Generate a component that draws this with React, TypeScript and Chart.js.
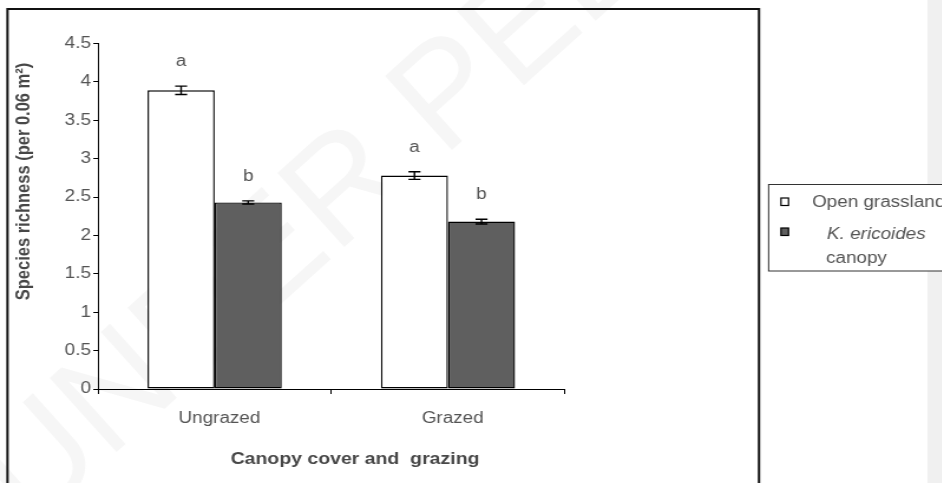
import React, { useEffect, useRef } from "react";
import { Chart, registerables } from "chart.js";

Chart.register(...registerables);

// ---- data ----
const categories = ["Ungrazed", "Grazed"];
const seriesNames = ["Open grassland", "K. ericoides canopy"];
const openValues = [3.89, 2.78];
const canopyValues = [2.43, 2.18];
const openErrors = [0.055, 0.05];
const canopyErrors = [0.02, 0.03];
const openLetters = ["a", "a"];
const canopyLetters = ["b", "b"];
const yTickValues = [0, 0.5, 1, 1.5, 2, 2.5, 3, 3.5, 4, 4.5];
const yTitle = "Species richness (per 0.06 m\u00B2)";
const xTitle = "Canopy cover and  grazing";
const watermark = "UNDER PEER REVIEW";

// ---- layout (reference is horizontally stretched) ----
const S = 1.18;
const W = 942 / S;
const H = 483;
const FONT = "'Liberation Sans', Arial, Helvetica, sans-serif";
const TEXT = "#545454";
const TITLE = "#474747";

const px = (rx: number) => rx / S;

const errorPlugin = {
  id: "errorBars",
  afterDatasetsDraw(chart: any) {
    const ctx = chart.ctx;
    const y = chart.scales.y;
    const errs = [openErrors, canopyErrors];
    const letters = [openLetters, canopyLetters];
    chart.data.datasets.forEach((ds: any, di: number) => {
      const meta = chart.getDatasetMeta(di);
      meta.data.forEach((bar: any, i: number) => {
        const v = ds.data[i] as number;
        const e = errs[di][i];
        const x = bar.x;
        const yt = y.getPixelForValue(v + e);
        const yb = y.getPixelForValue(v - e);
        const cap = px(6);
        ctx.save();
        ctx.strokeStyle = "#000";
        ctx.lineWidth = 1.4;
        ctx.beginPath();
        ctx.moveTo(x, yt);
        ctx.lineTo(x, yb);
        ctx.moveTo(x - cap, yt);
        ctx.lineTo(x + cap, yt);
        ctx.moveTo(x - cap, yb);
        ctx.lineTo(x + cap, yb);
        ctx.stroke();
        ctx.fillStyle = TEXT;
        ctx.font = `16px ${FONT}`;
        ctx.textAlign = "center";
        ctx.textBaseline = "alphabetic";
        ctx.fillText(letters[di][i], x, yt - 20);
        ctx.restore();
      });
    });
  },
};

const decorPlugin = {
  id: "decor",
  beforeDraw(chart: any) {
    const ctx = chart.ctx;
    ctx.save();
    // grey strip on the right
    ctx.fillStyle = "#f0f0f0";
    ctx.fillRect(px(927.5), 0, W - px(927.5) + 2, H);
    // watermark
    ctx.scale(1 / S, 1);
    ctx.translate(30, 530);
    ctx.rotate((-42 * Math.PI) / 180);
    ctx.fillStyle = "#f6f6f6";
    ctx.font = `145px ${FONT}`;
    ctx.textAlign = "left";
    ctx.textBaseline = "alphabetic";
    ctx.fillText(watermark, 0, 0);
    ctx.restore();
  },
  afterDraw(chart: any) {
    const ctx = chart.ctx;
    ctx.save();
    // outer chart border
    ctx.strokeStyle = "#111";
    ctx.lineWidth = 2;
    ctx.beginPath();
    ctx.moveTo(px(7.5), H + 5);
    ctx.lineTo(px(7.5), 9);
    ctx.lineTo(px(759), 9);
    ctx.lineTo(px(759), H + 5);
    ctx.stroke();

    // legend box
    ctx.fillStyle = "#fff";
    ctx.fillRect(px(768), 184, W - px(768) + 5, 87);
    ctx.strokeStyle = "#333";
    ctx.lineWidth = 1;
    ctx.strokeRect(px(768) + 0.5, 184.5, W - px(768) + 10, 86.5);

    // legend markers
    ctx.lineWidth = 1.2;
    ctx.strokeStyle = "#000";
    ctx.fillStyle = "#ffffff";
    ctx.fillRect(px(781), 198, px(7.5), 7.5);
    ctx.strokeRect(px(781), 198, px(7.5), 7.5);
    ctx.fillStyle = "#5f5f5f";
    ctx.fillRect(px(781), 228, px(7.5), 7.5);
    ctx.strokeRect(px(781), 228, px(7.5), 7.5);

    // legend text
    ctx.fillStyle = TEXT;
    ctx.textAlign = "left";
    ctx.textBaseline = "alphabetic";
    ctx.font = `16px ${FONT}`;
    ctx.fillText(seriesNames[0], px(812), 206.5);
    const parts = seriesNames[1].split(" ");
    ctx.font = `italic 16px ${FONT}`;
    ctx.fillText(parts.slice(0, 2).join(" "), px(827), 239);
    ctx.font = `16px ${FONT}`;
    ctx.fillText(parts.slice(2).join(" "), px(826), 263);

    // axis titles
    ctx.fillStyle = TITLE;
    ctx.font = `bold 16.5px ${FONT}`;
    ctx.textAlign = "center";
    ctx.fillText(xTitle, px(355), 464);
    ctx.translate(px(29), 181.5);
    ctx.rotate(-Math.PI / 2);
    ctx.fillText(yTitle, 0, 0);
    ctx.restore();
  },
};

export default function App() {
  const ref = useRef<HTMLCanvasElement | null>(null);

  useEffect(() => {
    if (!ref.current) return;
    const chart = new Chart(ref.current, {
      type: "bar",
      data: {
        labels: categories,
        datasets: [
          {
            label: seriesNames[0],
            data: openValues,
            backgroundColor: "#ffffff",
            borderColor: "#000000",
            borderWidth: 1.4,
            borderSkipped: false,
            categoryPercentage: 0.575,
            barPercentage: 1,
          },
          {
            label: seriesNames[1],
            data: canopyValues,
            backgroundColor: "#5f5f5f",
            borderColor: "#000000",
            borderWidth: 1.4,
            borderSkipped: false,
            categoryPercentage: 0.575,
            barPercentage: 1,
          },
        ],
      },
      options: {
        animation: false,
        responsive: false,
        maintainAspectRatio: false,
        devicePixelRatio: 1,
        layout: {
          padding: { left: px(98) - 60, right: W - px(565), top: 43.5, bottom: 483 - 389 - 60 },
        },
        plugins: {
          legend: { display: false },
          tooltip: { enabled: false },
          title: { display: false },
        },
        scales: {
          x: {
            afterFit: (s: any) => {
              s.height = 60;
            },
            grid: {
              offset: true,
              drawOnChartArea: false,
              drawTicks: true,
              tickLength: 5,
              color: "#000",
            },
            border: { display: true, color: "#000", width: 1 },
            ticks: {
              color: TEXT,
              font: { family: FONT, size: 16 },
              padding: 15,
              labelOffset: 4,
            },
          } as any,
          y: {
            min: 0,
            max: 4.5,
            afterFit: (s: any) => {
              s.width = 60;
            },
            afterBuildTicks: (s: any) => {
              s.ticks = yTickValues.map((v) => ({ value: v }));
            },
            grid: {
              drawOnChartArea: false,
              drawTicks: true,
              tickLength: 4,
              color: "#000",
            },
            border: { display: true, color: "#000", width: 1 },
            ticks: {
              color: TEXT,
              font: { family: FONT, size: 16 },
              padding: 2,
              callback: (v: any) => String(v),
            },
          } as any,
        },
      },
      plugins: [decorPlugin, errorPlugin],
    });
    return () => chart.destroy();
  }, []);

  return (
    <div
      style={{
        position: "fixed",
        left: 0,
        top: 0,
        width: 942,
        height: 483,
        overflow: "hidden",
        background: "#fff",
      }}
    >
      <div style={{ transform: `scaleX(${S})`, transformOrigin: "0 0", width: W, height: H }}>
        <canvas ref={ref} width={Math.round(W)} height={H} style={{ display: "block" }} />
      </div>
    </div>
  );
}
